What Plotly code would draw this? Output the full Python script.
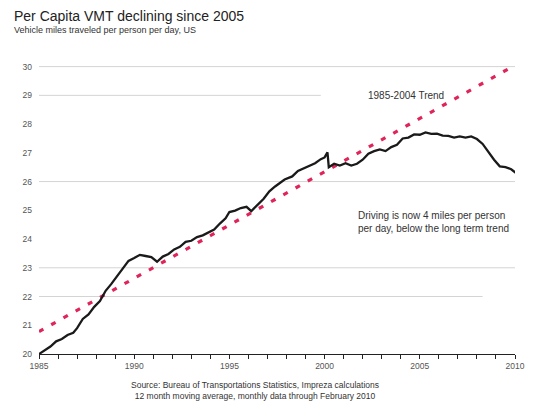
import plotly.graph_objects as go

# ---- data ----
vmt_years = [1985.0, 1985.3, 1985.6, 1985.9, 1986.2, 1986.5, 1986.8, 1987.0, 1987.3, 1987.6,
             1987.9, 1988.2, 1988.5, 1988.8, 1989.1, 1989.4, 1989.7, 1990.0, 1990.3, 1990.6,
             1990.9, 1991.2, 1991.5, 1991.8, 1992.1, 1992.4, 1992.7, 1993.0, 1993.3, 1993.6,
             1993.9, 1994.2, 1994.5, 1994.8, 1995.0, 1995.3, 1995.6, 1995.9, 1996.15, 1996.5,
             1996.8, 1997.1, 1997.4, 1997.9, 1998.3, 1998.6, 1998.9, 1999.2, 1999.5, 1999.8,
             2000.0, 2000.15, 2000.22, 2000.5, 2000.8, 2001.1, 2001.4, 2001.7, 2002.0, 2002.3,
             2002.6, 2002.9, 2003.2, 2003.5, 2003.8, 2004.1, 2004.4, 2004.7, 2005.0, 2005.3,
             2005.6, 2005.9, 2006.2, 2006.5, 2006.8, 2007.1, 2007.4, 2007.7, 2008.0, 2008.3,
             2008.6, 2008.9, 2009.2, 2009.5, 2009.8, 2010.05]
vmt_values = [20.00, 20.14, 20.26, 20.44, 20.52, 20.66, 20.74, 20.90, 21.22, 21.38,
              21.64, 21.84, 22.20, 22.44, 22.72, 22.96, 23.24, 23.34, 23.45, 23.41,
              23.37, 23.21, 23.39, 23.48, 23.64, 23.73, 23.90, 23.94, 24.07, 24.13,
              24.24, 24.33, 24.54, 24.72, 24.94, 24.99, 25.08, 25.12, 24.97, 25.21,
              25.40, 25.66, 25.83, 26.07, 26.18, 26.37, 26.46, 26.57, 26.64, 26.78,
              26.84, 27.02, 26.50, 26.62, 26.56, 26.64, 26.56, 26.62, 26.76, 26.97,
              27.06, 27.12, 27.06, 27.20, 27.28, 27.50, 27.53, 27.64, 27.63, 27.71,
              27.66, 27.67, 27.60, 27.59, 27.53, 27.57, 27.53, 27.57, 27.48, 27.31,
              27.03, 26.76, 26.53, 26.50, 26.43, 26.30]

trend_years = [1985, 2010]
trend_values = [20.78, 30.05]

y_ticks = list(range(20, 31))
x_ticks = [1985, 1990, 1995, 2000, 2005, 2010]
grid_full = [30, 26, 23]
grid_partial = [(29, 1999.8), (22, 2008.3)]

FONT = "Liberation Sans, Arial, sans-serif"

fig = go.Figure()

for g in grid_full:
    fig.add_shape(type="line", xref="x", yref="y", x0=1984.9, x1=2010, y0=g, y1=g,
                  line=dict(color="#d4d4d4", width=1), layer="below")
for g, xe in grid_partial:
    fig.add_shape(type="line", xref="x", yref="y", x0=1984.9, x1=xe, y0=g, y1=g,
                  line=dict(color="#d4d4d4", width=1), layer="below")

fig.add_trace(go.Scatter(x=trend_years, y=trend_values, mode="lines",
                         line=dict(color="#e0245a", width=3.2, dash="5px,9px"),
                         hoverinfo="skip", showlegend=False))
fig.add_trace(go.Scatter(x=vmt_years, y=vmt_values, mode="lines",
                         line=dict(color="#1a1a1a", width=2.3),
                         showlegend=False))

fig.update_layout(
    width=537, height=407,
    margin=dict(l=39, r=16, t=58, b=53),
    plot_bgcolor="white", paper_bgcolor="white",
    font=dict(family=FONT, color="#444", size=9),
    xaxis=dict(range=[1985, 2010], tickvals=x_ticks, ticktext=[str(v) for v in x_ticks],
               showgrid=False, zeroline=False, showline=True, linecolor="#222", linewidth=1.2,
               ticks="outside", ticklen=4, tickcolor="#222", tickwidth=1,
               minor=dict(dtick=1, tick0=1985, ticks="outside", ticklen=4, tickcolor="#222", showgrid=False),
               tickfont=dict(size=8.5, color="#555")),
    yaxis=dict(range=[20, 30.3], tickvals=y_ticks, showgrid=False, zeroline=False,
               showline=False, ticks="", ticklabelstandoff=6,
               tickfont=dict(size=8.5, color="#555")),
    annotations=[
        dict(text="Per Capita VMT declining since 2005", xref="paper", yref="paper",
             x=-39/482, y=1 + (58 - 16)/296, xanchor="left", yanchor="middle", showarrow=False,
             font=dict(size=14, color="#222", family=FONT), xshift=12),
        dict(text="Vehicle miles traveled per person per day, US", xref="paper", yref="paper",
             x=-39/482, y=1 + (58 - 30)/296, xanchor="left", yanchor="middle", showarrow=False,
             font=dict(size=9, color="#333", family=FONT), xshift=12),
        dict(text="1985-2004 Trend", xref="x", yref="y", x=2004.3, y=28.98,
             showarrow=False, xanchor="center", yanchor="middle",
             font=dict(size=10, color="#333", family=FONT)),
        dict(text="Driving is now 4 miles per person<br>per day, below the long term trend",
             xref="x", yref="y", x=2005.7, y=24.6, showarrow=False, xanchor="center",
             yanchor="middle", align="left",
             font=dict(size=10, color="#333", family=FONT)),
        dict(text="Source: Bureau of Transportations Statistics, Impreza calculations<br>"
                  "12 month moving average, monthly data through February 2010",
             xref="paper", yref="paper", x=(258 - 39)/482, y=-(390 - 354)/296,
             xanchor="center", yanchor="middle", showarrow=False, align="center",
             font=dict(size=8.5, color="#333", family=FONT)),
    ],
)

fig.write_html("out.html")
